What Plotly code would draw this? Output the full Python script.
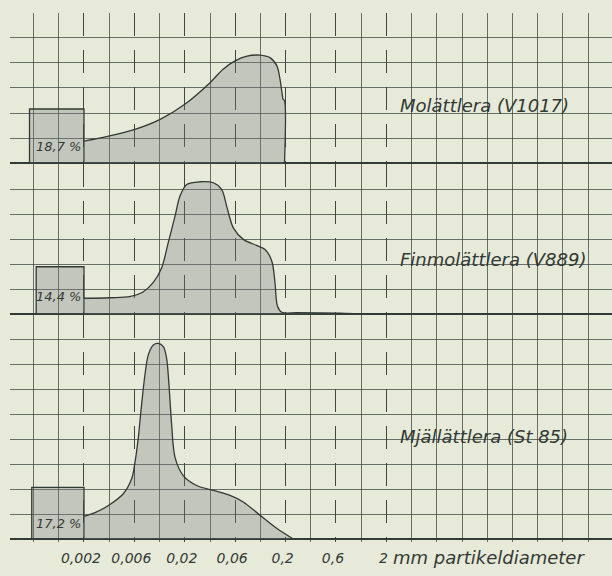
import math
import plotly.graph_objects as go

# ---------------- data ----------------
class_vals = [0.002, 0.00632, 0.02, 0.0632, 0.2, 0.632, 2.0]
class_text = ["0,002", "0,006", "0,02", "0,06", "0,2", "0,6", "2"]

names = ["Molättlera (V1017)", "Finmolättlera (V889)", "Mjällättlera (St 85)"]
clay_pct = [18.7, 14.4, 17.2]
clay_text = ["18,7 %", "14,4 %", "17,2 %"]

d1 = [0.002, 0.0036, 0.0064, 0.0114, 0.020, 0.0356, 0.048, 0.063, 0.083, 0.111,
      0.140, 0.164, 0.176, 0.184, 0.189, 0.195, 0.195]
h1 = [0.88, 1.09, 1.35, 1.75, 2.35, 3.21, 3.75, 4.08, 4.27, 4.31,
      4.21, 3.88, 3.35, 2.82, 2.55, 2.5, 0.0]

d2 = [0.002, 0.0036, 0.0057, 0.0077, 0.0097, 0.0118, 0.0137, 0.0160, 0.0179, 0.0209,
      0.0283, 0.0384, 0.0465, 0.0521, 0.0606, 0.0762, 0.103, 0.125, 0.146, 0.157,
      0.166, 0.183, 0.258, 0.69, 1.47]
h2 = [0.64, 0.66, 0.70, 0.89, 1.26, 1.86, 2.86, 3.92, 4.71, 5.18,
      5.29, 5.25, 4.98, 4.31, 3.45, 2.99, 2.75, 2.59, 2.12, 1.26,
      0.33, 0.08, 0.06, 0.04, 0.0]

d3 = [0.002, 0.00267, 0.00362, 0.00491, 0.00594, 0.00641, 0.00692, 0.00746, 0.00805, 0.00869,
      0.00975, 0.0109, 0.01225, 0.0132, 0.0140, 0.0148, 0.0160, 0.0193, 0.0262, 0.0384,
      0.0561, 0.0760, 0.111, 0.163, 0.238]
h3 = [0.91, 1.09, 1.39, 1.82, 2.42, 3.08, 4.08, 5.41, 6.60, 7.40,
      7.80, 7.86, 7.73, 7.26, 6.07, 4.61, 3.28, 2.55, 2.15, 1.95,
      1.75, 1.49, 0.96, 0.43, 0.0]

curves = [(d1, h1), (d2, h2), (d3, h3)]

# ---------------- style ----------------
PAPER = "#e7e9d9"
FILL = "rgba(118,124,128,0.32)"
INK = "#323a35"
CLASS_LINE = "rgba(45,52,48,0.9)"
THIN = "rgba(60,68,62,0.75)"
FONT = "DejaVu Sans"

CELL_DEC = 0.25          # one grid cell = a quarter decade
AREA_PER_CELL2 = 4.0     # percent represented by one square cell
X_LOG_RANGE = [-3.433, 2.539]
X_DOMAIN = [10 / 612, 1]
thin_vals = [0.002 * 10 ** (k * CELL_DEC) for k in range(-2, 21)
             if not (0 <= k <= 12 and k % 2 == 0)]

y_domains = [[0.7153, 0.9766], [0.4531, 0.7153], [0.059, 0.4531]]
y_ranges = [[-0.03, 5.97], [-0.03, 6.0], [-0.12, 9.0]]
label_y = [2.3, 2.19, 4.1]
pct_y = [0.68, 0.72, 0.64]

fig = go.Figure()
annotations = []
for i, ((dx, hy), pct) in enumerate(zip(curves, clay_pct)):
    xa = "x" if i == 0 else f"x{i+1}"
    ya = "y" if i == 0 else f"y{i+1}"
    # overlay axis carrying the thin grid lines
    fig.add_trace(go.Scatter(
        x=[thin_vals[0]], y=[0], mode="markers", marker=dict(opacity=0),
        xaxis=f"x{i+4}", yaxis=ya, hoverinfo="skip", showlegend=False))
    side = math.sqrt(pct / AREA_PER_CELL2)
    left = 0.002 * 10 ** (-side * CELL_DEC)
    fig.add_trace(go.Scatter(
        x=[left, left, 0.002, 0.002, left], y=[0, side, side, 0, 0],
        mode="lines", fill="toself", fillcolor=FILL,
        line=dict(color=INK, width=1.3), xaxis=xa, yaxis=ya,
        hoverinfo="skip", showlegend=False))
    fig.add_trace(go.Scatter(
        x=dx, y=hy, mode="lines", fill="tozeroy", fillcolor=FILL,
        line=dict(color=INK, width=1.3, shape="spline", smoothing=0.9),
        xaxis=xa, yaxis=ya, hoverinfo="skip", showlegend=False))
    annotations.append(dict(
        x=math.log10(2.61), y=label_y[i], xref=xa, yref=ya, text=names[i],
        showarrow=False, xanchor="left", yanchor="middle",
        font=dict(family=FONT, size=18, color=INK, style="italic")))
    annotations.append(dict(
        x=math.log10(0.002), y=pct_y[i], xref=xa, yref=ya, text=clay_text[i],
        showarrow=False, xanchor="right", yanchor="middle", xshift=-1,
        font=dict(family=FONT, size=13, color=INK, style="italic")))

annotations.append(dict(
    x=math.log10(2.0), y=(576 - 557) / 576, xref="x3", yref="paper",
    text="mm partikeldiameter", showarrow=False, xanchor="left", yanchor="middle",
    xshift=5, font=dict(family=FONT, size=18, color=INK, style="italic")))

layout = dict(
    width=612, height=576, margin=dict(l=0, r=0, t=0, b=0),
    paper_bgcolor=PAPER, plot_bgcolor=PAPER, annotations=annotations,
    showlegend=False,
)
for i in range(3):
    xk = "xaxis" if i == 0 else f"xaxis{i+1}"
    yk = "yaxis" if i == 0 else f"yaxis{i+1}"
    ya = "y" if i == 0 else f"y{i+1}"
    xa = "x" if i == 0 else f"x{i+1}"
    layout[xk] = dict(
        type="log", range=X_LOG_RANGE, domain=X_DOMAIN, anchor=ya,
        tickmode="array", tickvals=class_vals, ticktext=class_text,
        showticklabels=(i == 2),
        ticks="", showline=False, zeroline=False,
        showgrid=True, gridcolor=CLASS_LINE, gridwidth=1.4, griddash="23px,14px",
        tickfont=dict(family=FONT, size=14, color=INK, style="italic"),
        ticklabelstandoff=6, ticklabelshift=-3,
    )
    layout[f"xaxis{i+4}"] = dict(
        type="log", range=X_LOG_RANGE, domain=X_DOMAIN, anchor=ya, overlaying=xa,
        tickmode="array", tickvals=thin_vals, showticklabels=False, ticks="",
        showline=False, zeroline=False,
        showgrid=True, gridcolor=THIN, gridwidth=1,
    )
    layout[yk] = dict(
        domain=y_domains[i], range=y_ranges[i], anchor=xa,
        tick0=0, dtick=1, showticklabels=False, ticks="",
        showgrid=True, gridcolor=THIN, gridwidth=1,
        zeroline=True, zerolinecolor=INK, zerolinewidth=2, showline=False,
    )
fig.update_layout(**layout)
fig.write_html("out.html", config={"displayModeBar": False},
               post_script="document.body.style.margin='0';")
